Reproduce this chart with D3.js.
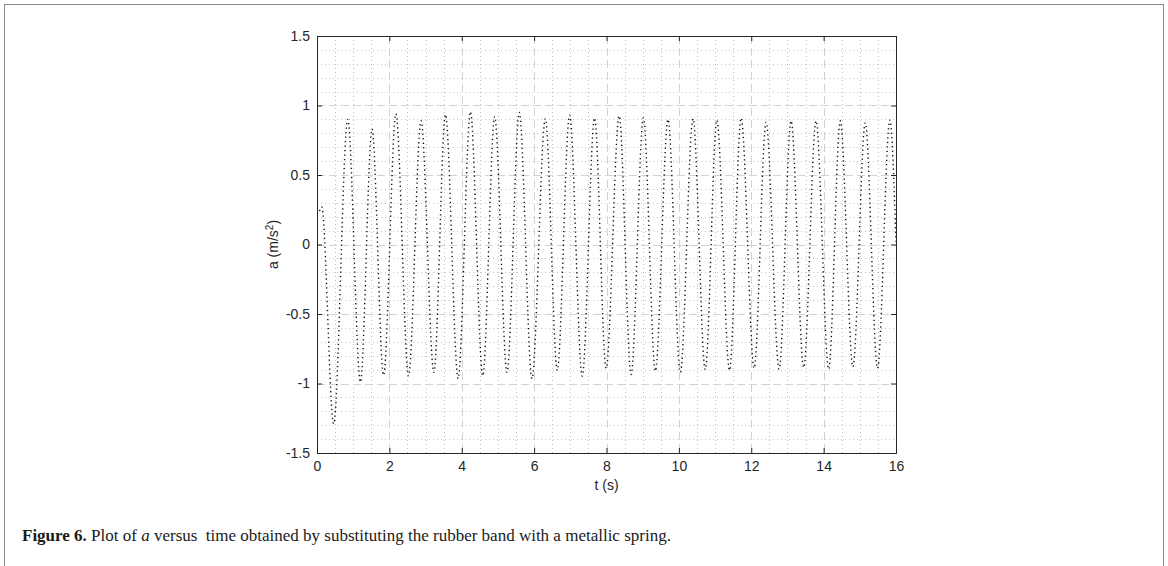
<!DOCTYPE html>
<html><head><meta charset="utf-8">
<script src="https://cdn.jsdelivr.net/npm/d3@7"></script>
<style>body{margin:0;background:#fff;} svg{display:block;}</style>
</head><body>
<svg id="chart" width="1168" height="566"></svg>
<script>
const timeS = [0.07, 0.13, 0.46, 0.85, 1.20, 1.52, 1.84, 2.18, 2.53, 2.875, 3.23, 3.55, 3.90, 4.24, 4.58, 4.91, 5.25, 5.59, 5.94, 6.31, 6.64, 6.98, 7.33, 7.67, 7.99, 8.35, 8.68, 9.02, 9.35, 9.70, 10.04, 10.39, 10.73, 11.05, 11.40, 11.72, 12.08, 12.41, 12.77, 13.10, 13.45, 13.79, 14.14, 14.46, 14.81, 15.15, 15.49, 15.83, 16.0];
const accel = [0.24, 0.27, -1.29, 0.90, -0.99, 0.83, -0.94, 0.94, -0.945, 0.89, -0.92, 0.935, -0.965, 0.955, -0.945, 0.92, -0.92, 0.95, -0.965, 0.905, -0.905, 0.93, -0.947, 0.91, -0.89, 0.925, -0.935, 0.91, -0.91, 0.90, -0.92, 0.905, -0.90, 0.895, -0.905, 0.91, -0.89, 0.88, -0.897, 0.89, -0.885, 0.89, -0.897, 0.89, -0.88, 0.875, -0.89, 0.895, 0.02];
const xTicks = [0, 2, 4, 6, 8, 10, 12, 14, 16];
const xTickLabels = ["0", "2", "4", "6", "8", "10", "12", "14", "16"];
const yTicks = [-1.5, -1, -0.5, 0, 0.5, 1, 1.5];
const yTickLabels = ["-1.5", "-1", "-0.5", "0", "0.5", "1", "1.5"];
const xMinorStep = 0.5;
const yMinorStep = 0.1;
const xLabel = "t (s)";
const captionBold = "Figure 6.";
const captionParts = [" Plot of ", "a", " versus  time obtained by substituting the rubber band with a metallic spring."];

const svg = d3.select("#chart");
const L = 317, R = 896, T = 36, B = 453;
const x = d3.scaleLinear().domain([0, 16]).range([L, R]);
const y = d3.scaleLinear().domain([-1.5, 1.5]).range([B, T]);

// figure frame
svg.append("rect").attr("x", 4.5).attr("y", 4.5).attr("width", 1159).attr("height", 580)
  .attr("fill", "none").attr("stroke", "#8a8a8a").attr("stroke-width", 1);

const grid = svg.append("g");
const xMinor = d3.range(0, 16.001, xMinorStep).filter(v => Math.abs(v / 2 - Math.round(v / 2)) > 1e-6);
const yMinor = d3.range(-1.5, 1.5001, yMinorStep).filter(v => Math.abs(v / 0.5 - Math.round(v / 0.5)) > 1e-6);
grid.selectAll(".xm").data(xMinor).join("line")
  .attr("x1", d => Math.round(x(d)) + 0.5).attr("x2", d => Math.round(x(d)) + 0.5)
  .attr("y1", T).attr("y2", B)
  .attr("stroke", "#c4c4c4").attr("stroke-width", 1).attr("stroke-dasharray", "1,3");
grid.selectAll(".ym").data(yMinor).join("line")
  .attr("y1", d => Math.round(y(d)) + 0.5).attr("y2", d => Math.round(y(d)) + 0.5)
  .attr("x1", L).attr("x2", R)
  .attr("stroke", "#c4c4c4").attr("stroke-width", 1).attr("stroke-dasharray", "1,3");
grid.selectAll(".xM").data(xTicks.slice(1, -1)).join("line")
  .attr("x1", d => Math.round(x(d)) + 0.5).attr("x2", d => Math.round(x(d)) + 0.5)
  .attr("y1", T).attr("y2", B)
  .attr("stroke", "#d2d2d2").attr("stroke-width", 1).attr("stroke-dasharray", "8,4");
grid.selectAll(".yM").data(yTicks.slice(1, -1)).join("line")
  .attr("y1", d => Math.round(y(d)) + 0.5).attr("y2", d => Math.round(y(d)) + 0.5)
  .attr("x1", L).attr("x2", R)
  .attr("stroke", "#d2d2d2").attr("stroke-width", 1).attr("stroke-dasharray", "8,4");

// data
const pts = timeS.map((t, i) => [t, accel[i]]);
const line = d3.line().x(d => x(d[0])).y(d => y(d[1])).curve(d3.curveMonotoneX);
svg.append("path").attr("d", line(pts)).attr("fill", "none")
  .attr("stroke", "#111").attr("stroke-width", 1.4).attr("stroke-dasharray", "1.3,3.2");

// axes
const font = "'Liberation Sans', Arial, Helvetica, sans-serif";
const axB = d3.axisBottom(x).tickValues(xTicks).tickFormat((d, i) => xTickLabels[i]).tickSize(-5).tickPadding(8);
const axT = d3.axisTop(x).tickValues(xTicks).tickFormat("").tickSize(-5);
const axL = d3.axisLeft(y).tickValues(yTicks).tickFormat((d, i) => yTickLabels[i]).tickSize(-5).tickPadding(7);
const axR = d3.axisRight(y).tickValues(yTicks).tickFormat("").tickSize(-5);
function style(g) {
  g.selectAll("path.domain").attr("stroke", "#262626").attr("stroke-width", 1);
  g.selectAll(".tick line").attr("stroke", "#262626");
  g.selectAll("text").attr("font-family", font).attr("font-size", 14).attr("fill", "#262626");
}
svg.append("g").attr("transform", `translate(0,${B})`).call(axB).call(style);
svg.append("g").attr("transform", `translate(0,${T})`).call(axT).call(style);
svg.append("g").attr("transform", `translate(${L},0)`).call(axL).call(style);
svg.append("g").attr("transform", `translate(${R},0)`).call(axR).call(style);

svg.append("text").attr("x", (L + R) / 2).attr("y", 490).attr("text-anchor", "middle")
  .attr("font-family", font).attr("font-size", 14).attr("fill", "#262626").text(xLabel);

const yl = svg.append("text").attr("transform", `translate(278,${(T + B) / 2}) rotate(-90)`)
  .attr("text-anchor", "middle").attr("font-family", font).attr("font-size", 14).attr("fill", "#262626");
yl.append("tspan").text("a (m/s");
yl.append("tspan").attr("dy", -5).attr("font-size", 10).text("2");
yl.append("tspan").attr("dy", 5).text(")");

// caption
const cap = svg.append("text").attr("x", 22).attr("y", 541)
  .attr("font-family", "'Liberation Serif', 'DejaVu Serif', serif").attr("font-size", 17)
  .attr("fill", "#1a1a1a").style("white-space", "pre");
cap.append("tspan").attr("font-weight", "bold").text(captionBold);
cap.append("tspan").text(captionParts[0]);
cap.append("tspan").attr("font-style", "italic").text(captionParts[1]);
cap.append("tspan").text(captionParts[2]);
</script>
</body></html>
